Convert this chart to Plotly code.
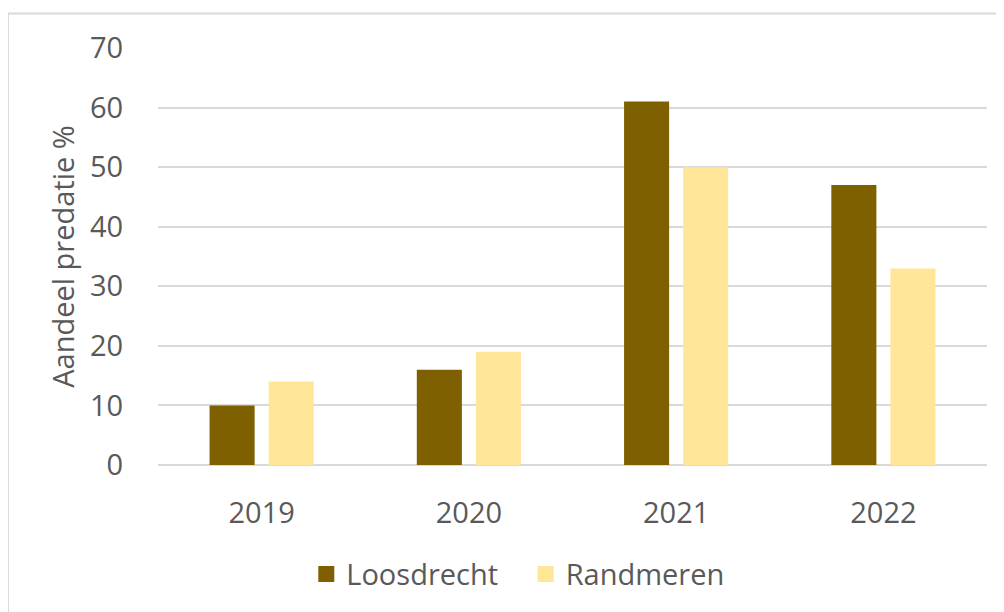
import plotly.graph_objects as go

years = ["2019", "2020", "2021", "2022"]
loosdrecht = [10, 16, 61, 47]
randmeren = [14, 19, 50, 33]
y_ticks = [0, 10, 20, 30, 40, 50, 60, 70]
series_names = ["Loosdrecht", "Randmeren"]

FONT = "Open Sans"
TXT = "#595959"
GRID = "#d9d9d9"
C1 = "#7f6000"
C2 = "#ffe699"

fig = go.Figure()
fig.add_trace(go.Bar(name=series_names[0], x=years, y=loosdrecht, showlegend=False,
                     marker=dict(color=C1, line=dict(width=0))))
fig.add_trace(go.Bar(name=series_names[1], x=years, y=randmeren, showlegend=False,
                     marker=dict(color=C2, line=dict(width=0))))
# legend swatches (larger squares like the original)
fig.add_trace(go.Scatter(name=series_names[0] + "\u00a0\u00a0\u00a0", x=[None], y=[None], mode="markers",
                         marker=dict(symbol="square", size=18, color=C1)))
fig.add_trace(go.Scatter(name=series_names[1], x=[None], y=[None], mode="markers",
                         marker=dict(symbol="square", size=18, color=C2)))

fig.update_layout(
    width=1004, height=612,
    margin=dict(l=150, r=25, t=40, b=155),
    paper_bgcolor="white", plot_bgcolor="white",
    barmode="group", bargap=0.43, bargroupgap=0.237,
    font=dict(family=FONT, color=TXT, size=29),
    showlegend=True,
    legend=dict(orientation="h", x=0.434, xanchor="center", y=-0.262, yanchor="middle",
                font=dict(size=29, color=TXT), itemwidth=30, bgcolor="rgba(0,0,0,0)"),
    xaxis=dict(showgrid=False, showline=False, zeroline=False,
               ticks="outside", ticklen=22, tickcolor="rgba(0,0,0,0)",
               tickfont=dict(size=29, color=TXT)),
    yaxis=dict(range=[0, 70], tickvals=y_ticks, showgrid=True, gridcolor=GRID, gridwidth=2,
               zeroline=True, zerolinecolor=GRID, zerolinewidth=2, showline=False,
               ticks="outside", ticklen=28, tickcolor="rgba(0,0,0,0)",
               tickfont=dict(size=29, color=TXT),
               title=dict(text="Aandeel predatie %", font=dict(size=29, color=TXT), standoff=6)),
    shapes=[dict(type="rect", xref="paper", yref="paper",
                 x0=-0.181, x1=1.05, y0=-0.45, y1=1.083,
                 line=dict(color=GRID, width=2), fillcolor="rgba(0,0,0,0)", layer="below")],
)

fig.write_html("out.html")
